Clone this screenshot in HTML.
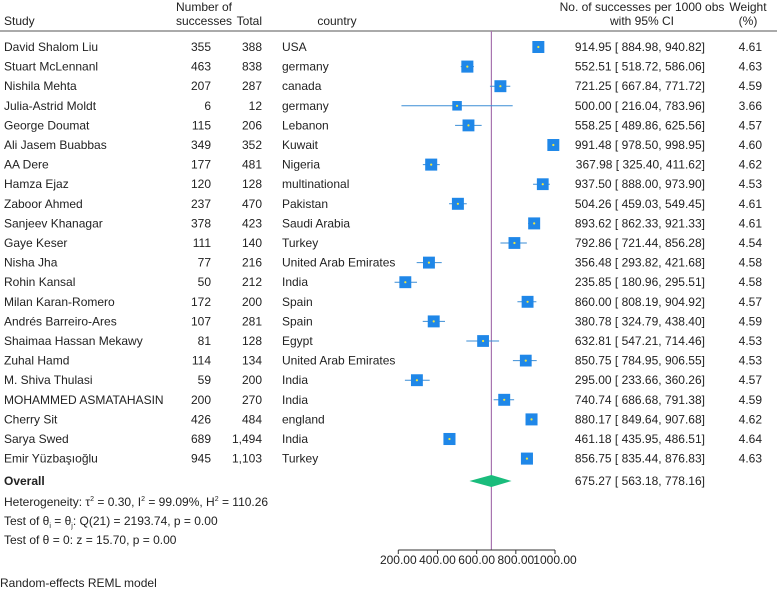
<!DOCTYPE html>
<html><head><meta charset="utf-8"><style>
html,body{margin:0;padding:0;background:#fff;}
svg{display:block;font-family:"Liberation Sans",Arial,sans-serif;font-size:12px;fill:#222;}
</style></head><body>
<svg id="c" width="777" height="589" viewBox="0 0 777 589">
<g>
<text x="4" y="25">Study</text>
<text x="204" y="11" text-anchor="middle">Number of</text>
<text x="204" y="25" text-anchor="middle">successes</text>
<text x="262" y="25" text-anchor="end">Total</text>
<text x="337" y="25" text-anchor="middle">country</text>
<text x="642" y="11" text-anchor="middle">No. of successes per 1000 obs</text>
<text x="642" y="25" text-anchor="middle">with 95% CI</text>
<text x="748" y="11" text-anchor="middle">Weight</text>
<text x="748" y="25" text-anchor="middle">(%)</text>
<line x1="0" y1="31" x2="777" y2="31" stroke="#555" stroke-width="1"/>
</g>
<g id="rows"></g>
<g>
<text x="4" y="485" font-weight="bold">Overall</text>
<text x="4" y="506">Heterogeneity: τ<tspan font-size="7" dy="-5">2</tspan><tspan dy="5"> = 0.30, I</tspan><tspan font-size="7" dy="-5">2</tspan><tspan dy="5"> = 99.09%, H</tspan><tspan font-size="7" dy="-5">2</tspan><tspan dy="5"> = 110.26</tspan></text>
<text x="4" y="525">Test of θ<tspan font-size="7" dy="3">i</tspan><tspan dy="-3"> = θ</tspan><tspan font-size="7" dy="3">j</tspan><tspan dy="-3">: Q(21) = 2193.74, p = 0.00</tspan></text>
<text x="4" y="544">Test of θ = 0: z = 15.70, p = 0.00</text>
<text x="0" y="587">Random-effects REML model</text>
</g>
</svg>
<script>
const studies=["David Shalom Liu","Stuart McLennanl","Nishila Mehta","Julia-Astrid Moldt","George Doumat","Ali Jasem Buabbas","AA Dere","Hamza Ejaz","Zaboor Ahmed","Sanjeev Khanagar","Gaye Keser","Nisha Jha","Rohin Kansal","Milan Karan-Romero","Andrés Barreiro-Ares","Shaimaa Hassan Mekawy","Zuhal Hamd","M. Shiva Thulasi","MOHAMMED ASMATAHASIN","Cherry Sit","Sarya Swed","Emir Yüzbaşıoğlu"];
const successes=["355","463","207","6","115","349","177","120","237","378","111","77","50","172","107","81","114","59","200","426","689","945"];
const totals=["388","838","287","12","206","352","481","128","470","423","140","216","212","200","281","128","134","200","270","484","1,494","1,103"];
const countries=["USA","germany","canada","germany","Lebanon","Kuwait","Nigeria","multinational","Pakistan","Saudi Arabia","Turkey","United Arab Emirates","India","Spain","Spain","Egypt","United Arab Emirates","India","India","england","India","Turkey"];
const est=[914.95,552.51,721.25,500.00,558.25,991.48,367.98,937.50,504.26,893.62,792.86,356.48,235.85,860.00,380.78,632.81,850.75,295.00,740.74,880.17,461.18,856.75];
const lo=[884.98,518.72,667.84,216.04,489.86,978.50,325.40,888.00,459.03,862.33,721.44,293.82,180.96,808.19,324.79,547.21,784.95,233.66,686.68,849.64,435.95,835.44];
const hi=[940.82,586.06,771.72,783.96,625.56,998.95,411.62,973.90,549.45,921.33,856.28,421.68,295.51,904.92,438.40,714.46,906.55,360.26,791.38,907.68,486.51,876.83];
const weights=[4.61,4.63,4.59,3.66,4.57,4.60,4.62,4.53,4.61,4.61,4.54,4.58,4.58,4.57,4.59,4.53,4.53,4.57,4.59,4.62,4.64,4.63];
const overall=[675.27,563.18,778.16];
const ticks=[200,400,600,800,1000];
const NS="http://www.w3.org/2000/svg";
const g=document.getElementById('rows');
const X=v=>398.3+(v-200)*(156.7/800);
const Y=i=>47+i*19.6;
function el(tag,attrs,parent){const e=document.createElementNS(NS,tag);for(const k in attrs)e.setAttribute(k,attrs[k]);(parent||g).appendChild(e);return e;}
function txt(x,y,s,anchor){const t=el('text',{x:x,y:y+4,'text-anchor':anchor||'start'});t.textContent=s;return t;}
const f=v=>v.toFixed(2);
const nl=el('line',{x1:X(overall[0]),x2:X(overall[0]),y1:31,y2:550,stroke:'#a874b0','stroke-width':1.2});


studies.forEach((s,i)=>{
  const y=Y(i);
  let t=txt(4,y,s);
  
  
  t=txt(211,y,successes[i],'end');
  
  
  t=txt(262,y,totals[i],'end');
  
  
  t=txt(282,y,countries[i]);
  
  
  t=txt(705,y,f(est[i])+' [ '+f(lo[i])+',  '+f(hi[i])+']','end');
  
  
  t=txt(762,y,f(weights[i]),'end');
  
  
  const l=el('line',{x1:X(lo[i]),x2:X(hi[i]),y1:y,y2:y,stroke:'#3b8ed6','stroke-width':1});
  
  
  const sz=weights[i]*2.6;
  const r=el('rect',{x:X(est[i])-sz/2,y:y-sz/2,width:sz,height:sz,fill:'#1f87e8'});
  
  
  const d=el('circle',{cx:X(est[i]),cy:y,r:1.1,fill:'#f2e640'});
  
  
});
const oy=481;
const dm=el('polygon',{points:`${X(overall[1])},${oy} ${X(overall[0])},${oy-6} ${X(overall[2])},${oy} ${X(overall[0])},${oy+6}`,fill:'#1abc7c'});


let ot=txt(705,oy,f(overall[0])+' [ '+f(overall[1])+',  '+f(overall[2])+']','end');


const ax=el('line',{x1:X(ticks[0]),x2:X(ticks[ticks.length-1]),y1:550,y2:550,stroke:'#333','stroke-width':1});


ticks.forEach(v=>{
  const tk=el('line',{x1:X(v),x2:X(v),y1:550,y2:554,stroke:'#333'});
  
  
  const tl=txt(X(v),560,v.toFixed(2),'middle');
  
  
});
</script>
</body></html>
